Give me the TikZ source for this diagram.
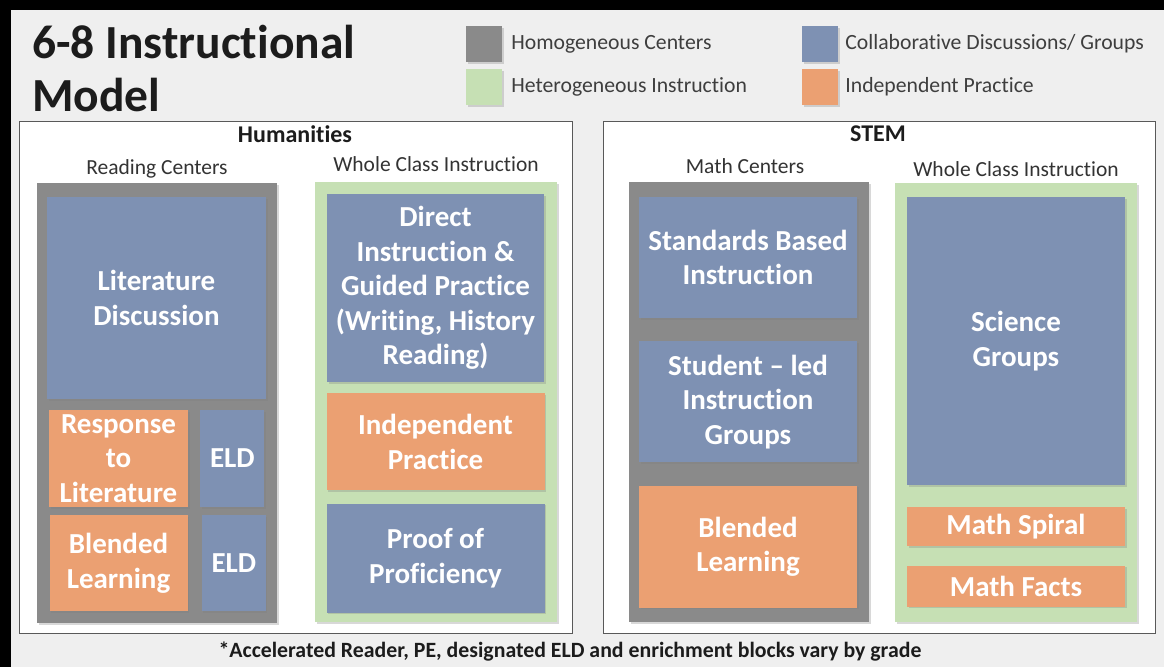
\documentclass[tikz,border=0pt]{standalone}
\usepackage{fontspec}
\setmainfont{Carlito}[Ligatures={NoCommon}]
\usetikzlibrary{positioning,shadows}
\definecolor{bgray}{HTML}{EFEFEF}
\definecolor{cgray}{HTML}{8A8A8A}
\definecolor{cgreen}{HTML}{C6E0B4}
\definecolor{cblue}{HTML}{7E91B3}
\definecolor{corange}{HTML}{EBA072}
\definecolor{ink}{HTML}{1C1C1C}

\begin{document}
\begin{tikzpicture}[x=1pt, y=-1pt,
    wh/.style 2 args={minimum width=#1pt, minimum height=#2pt},
    shd/.style={drop shadow={shadow xshift=1.5pt, shadow yshift=-1.5pt, opacity=.3}},
    panel/.style={draw=black!65, line width=.8pt, fill=white, inner sep=0pt},
    gbox/.style={fill=cgray, inner sep=0pt, shd},
    hbox/.style={fill=cgreen, inner sep=0pt, shd},
    bx/.style={inner sep=0pt, shd, align=center, text=white,
      font=\bfseries\fontsize{29}{34.5}\selectfont},
    cbox/.style={bx, fill=cblue},
    obox/.style={bx, fill=corange},
    sq/.style={wh={36}{36}, inner sep=0pt, shd},
    key/.style={inner sep=0pt, anchor=west, text=ink!85, font=\fontsize{21.7}{25}\selectfont},
    ttl/.style={inner sep=0pt, anchor=base west, text=ink, font=\bfseries\fontsize{47.5}{55}\selectfont},
    hdr/.style={inner sep=0pt, text=ink, font=\bfseries\fontsize{24}{28}\selectfont},
    sub/.style={inner sep=0pt, text=ink!90, font=\fontsize{21.5}{25}\selectfont},
    note/.style={inner sep=0pt, text=ink, font=\bfseries\fontsize{21.8}{25}\selectfont}]

  \useasboundingbox (0,0) rectangle (1164,667);
  \fill[bgray] (0,0) rectangle (1164,667);
  \fill[black] (0,0) rectangle (1164,10);
  \fill[black] (0,0) rectangle (11,667);

  % title and legend
  \node[ttl] (t1) at (32,58) {6-8 Instructional};
  \node[ttl] (t2) at (32,111) {Model};

  \node[sq, fill=cgray] (k1) at (484,44) {};
  \node[sq, fill=cgreen] (k2) at (484,87) {};
  \node[sq, fill=cblue] (k3) at (820,44) {};
  \node[sq, fill=corange] (k4) at (820,87) {};
  \node[key, right=9pt of k1] (l1) {Homogeneous Centers};
  \node[key, right=9pt of k2] (l2) {Heterogeneous Instruction};
  \node[key, right=7pt of k3] (l3) {Collaborative Discussions/ Groups};
  \node[key, right=7pt of k4] (l4) {Independent Practice};

  % humanities
  \node[panel, wh={553}{512}] (h) at (295.5,377) {};
  \node[hdr] (hh) at (295,134) {Humanities};
  \node[sub] (rc) at (157,169) {Reading Centers};
  \node[sub] (wh) at (436,164) {Whole Class Instruction};

  \node[gbox, wh={240}{440}] (g1) at (157,403) {};
  \node[hbox, wh={242}{440}] (g2) at (436,402) {};

  \node[cbox, wh={219}{202}] (ld) at (156.5,298) {Literature\\Discussion};
  \node[obox, wh={139}{97}] (rl) at (118.5,458.5) {Response\\to\\Literature};
  \node[cbox, wh={64}{97}, right=12pt of rl] (e1) {ELD};
  \node[obox, wh={138}{96}, below=8pt of rl] (bl) {Blended\\Learning};
  \node[cbox, wh={64}{96}, right=14pt of bl] (e2) {ELD};

  \node[cbox, wh={217}{188}] (di) at (435.5,288)
    {Direct\\Instruction \&\\Guided Practice\\(Writing, History\\Reading)};
  \node[obox, wh={218}{97}, below=11pt of di] (ip) {Independent\\Practice};
  \node[cbox, wh={218}{109}, below=13pt of ip] (pp) {Proof of\\Proficiency};

  % stem
  \node[panel, wh={552}{512}] (s) at (879,377) {};
  \node[hdr] (sh) at (878,134) {STEM};
  \node[sub] (mc) at (745,166) {Math Centers};
  \node[sub] (ws) at (1016,169) {Whole Class Instruction};

  \node[gbox, wh={240}{440}] (g3) at (749,402) {};
  \node[hbox, wh={242}{439}] (g4) at (1016,402.5) {};

  \node[cbox, wh={218}{121}] (sb) at (748,257.5) {Standards Based\\Instruction};
  \node[cbox, wh={218}{121}, below=23pt of sb] (sl) {Student – led\\Instruction\\Groups};
  \node[obox, wh={218}{122}, below=23pt of sl] (bm) {Blended\\Learning};

  \node[cbox, wh={218}{288}] (sg) at (1016,341) {Science\\Groups};
  \node[obox, wh={218}{39}, below=22pt of sg] (ms) {Math Spiral};
  \node[obox, wh={218}{41}, below=19pt of ms] (mf) {Math Facts};

  \node[note] (fn) at (570,652)
    {*Accelerated Reader, PE, designated ELD and enrichment blocks vary by grade};
\end{tikzpicture}
\end{document}
